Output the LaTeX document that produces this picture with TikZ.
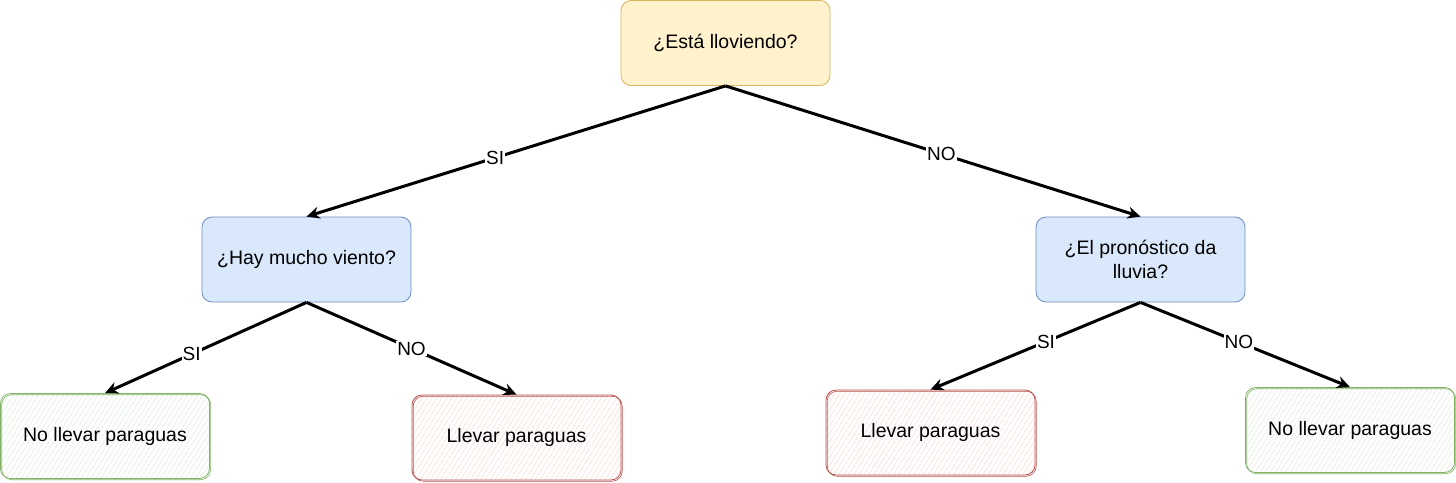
\documentclass[tikz,border=0pt]{standalone}
\usepackage{fontspec}
\setmainfont{Liberation Sans}
\usetikzlibrary{arrows.meta,patterns.meta}
\definecolor{yfill}{HTML}{FFF2CC}
\definecolor{ydraw}{HTML}{D6B656}
\definecolor{bfill}{HTML}{DAE8FC}
\definecolor{bdraw}{HTML}{6C8EBF}
\definecolor{gfill}{HTML}{CDE4CB}
\definecolor{gdraw}{HTML}{82B366}
\definecolor{rfill}{HTML}{F6C4C1}
\definecolor{rdraw}{HTML}{B85450}

\begin{document}
\begin{tikzpicture}[x=1pt, y=-1pt,
    box/.style={rounded corners=10pt, minimum width=209pt, minimum height=85pt,
        align=center, font=\fontsize{19.5}{24}\selectfont},
    question/.style={box, draw=#1draw, fill=#1fill, line width=0.8pt},
    leaf/.style={box, draw=#1draw, line width=0.8pt,
        preaction={pattern={Lines[angle=58, distance=4pt, line width=0.8pt]}, pattern color=#1fill},
        postaction={draw=#1draw, line width=0.6pt, transform canvas={xshift=1.2pt, yshift=-1.2pt}}},
    edge/.style={line width=3pt, -{Stealth[length=13pt, width=12pt]}},
    answer/.style={fill=white, inner sep=1pt, font=\fontsize{19}{22}\selectfont}]
    \useasboundingbox (0, 0) rectangle (1456, 482);

    \node[question=y] (rain) at (725.5, 43) {¿Está lloviendo?};
    \node[question=b] (wind) at (306.5, 259.5) {¿Hay mucho viento?};
    \node[question=b] (fcst) at (1140.5, 259.5) {¿El pronóstico da\\lluvia?};

    \node[leaf=g] (windsi) at (105, 436) {No llevar paraguas};
    \node[leaf=r] (windno) at (516.5, 437.5) {Llevar paraguas};
    \node[leaf=r] (fcstsi) at (930.5, 432.5) {Llevar paraguas};
    \node[leaf=g] (fcstno) at (1350, 430) {No llevar paraguas};

    \draw[edge] (rain.south) -- node[answer, pos=0.55] {SI} (wind.north);
    \draw[edge] (rain.south) -- node[answer, pos=0.52] {NO} (fcst.north);
    \draw[edge] (wind.south) -- node[answer, pos=0.57] {SI} (windsi.north);
    \draw[edge] (wind.south) -- node[answer, pos=0.5] {NO} (windno.north);
    \draw[edge] (fcst.south) -- node[answer, pos=0.45] {SI} (fcstsi.north);
    \draw[edge] (fcst.south) -- node[answer, pos=0.47] {NO} (fcstno.north);
\end{tikzpicture}
\end{document}
